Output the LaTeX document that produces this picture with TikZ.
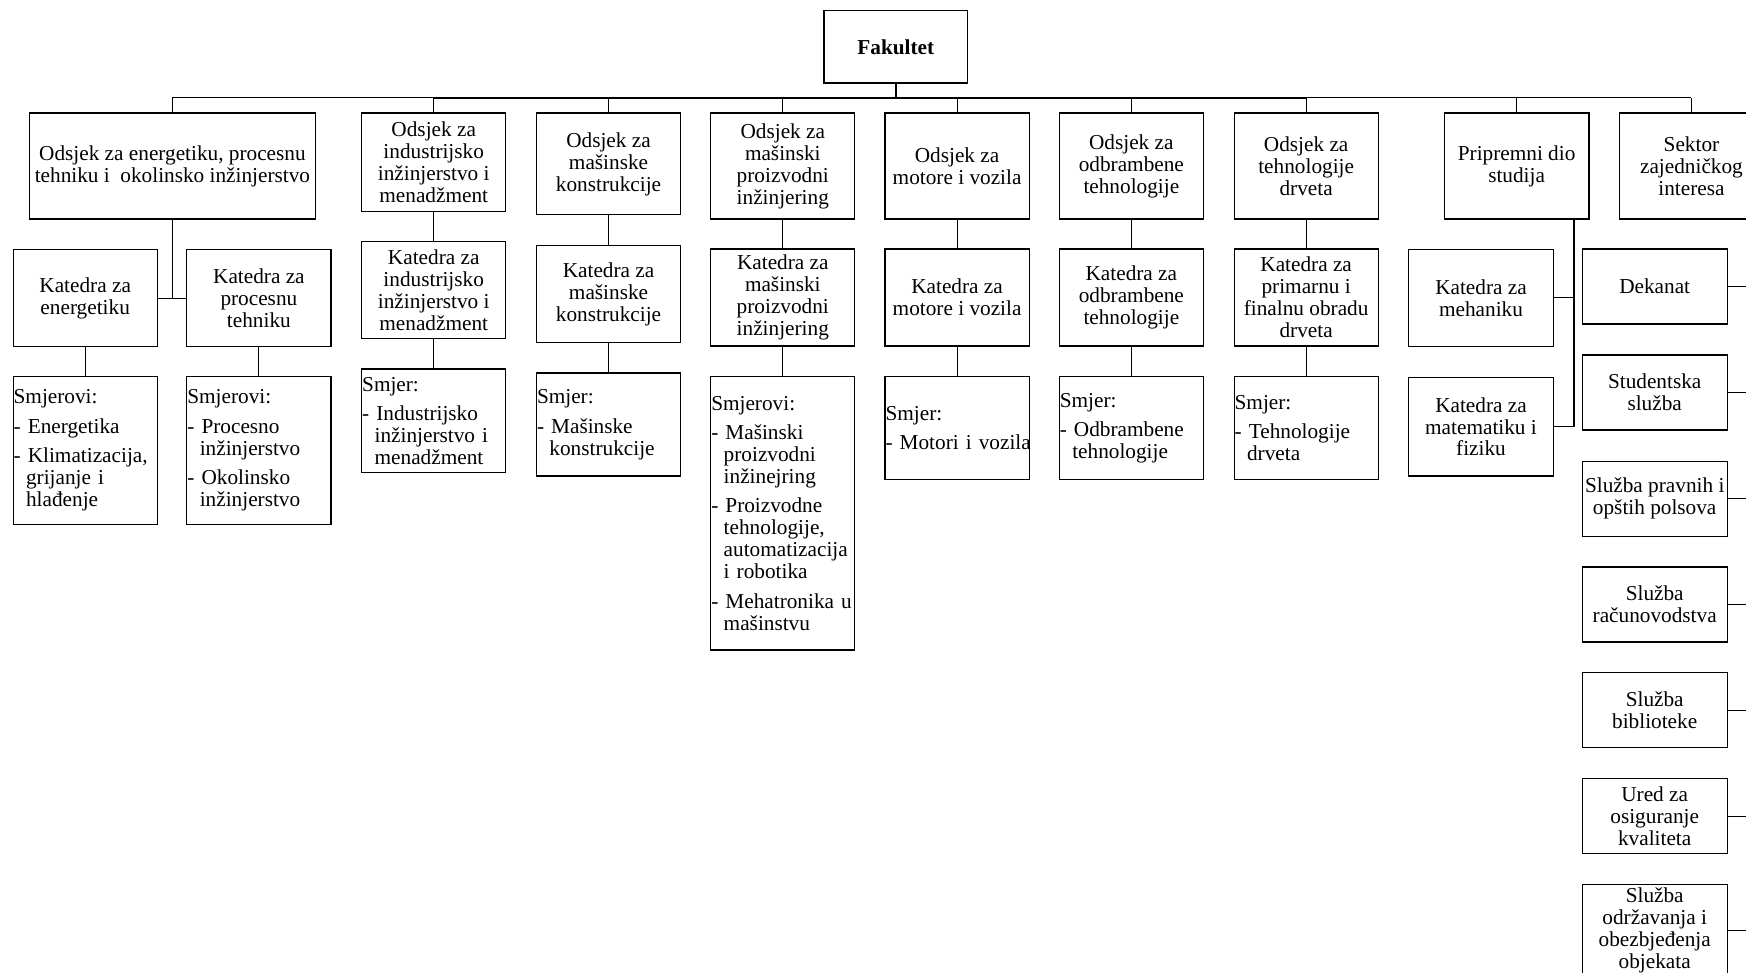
\documentclass[tikz,border=0pt]{standalone}
\usepackage{fontspec}
\setmainfont{Liberation Serif}
\usetikzlibrary{positioning}
\setlength{\parindent}{0pt}
% stavka u listi smjerova
\newcommand{\stavka}[1]{\par\vspace{3.4pt}\raggedright\exhyphenpenalty=10000
  \hangindent=5.6pt\hangafter=1\noindent-~#1\par}

\begin{document}
\begin{tikzpicture}[x=0.5pt,y=-0.5pt,
    font=\fontsize{9.55}{9.85}\selectfont,
    box/.style={draw,line width=0.5pt,inner xsep=1pt,inner ysep=0pt,align=center,
    minimum width=64.75pt},
    odsjek/.style={box,minimum height=47.6pt},
    katedra/.style={box,minimum height=43.55pt},
    lista/.style={box,align=left,inner xsep=0.25pt,text width=64.25pt},
    sluzba/.style={box,minimum width=65pt,minimum height=33.7pt},
    veza/.style={line width=0.5pt},
    deblja/.style={line width=1pt}]
    \useasboundingbox (0,0) rectangle (1568,873);
    \clip (0,0) rectangle (1568,873);

    \node[box,minimum width=64.5pt,minimum height=32.5pt] (fak) at (804.5,42) {\textbf{Fakultet}};

    % odsjeci
    \node[odsjek,minimum width=128.35pt] (ode) at (154.85,149.1) {Odsjek za energetiku, procesnu\\tehniku i\ \ okolinsko inžinjerstvo};
    \node[odsjek,minimum height=44.05pt] (odi) at (389.5,145.55) {Odsjek za\\industrijsko\\inžinjerstvo i\\menadžment};
    \node[odsjek,minimum height=45.75pt] (odm) at (546.5,147.25) {Odsjek za\\mašinske\\konstrukcije};
    \node[odsjek] (odmp) at (703,149.1) {Odsjek za\\mašinski\\proizvodni\\inžinjering};
    \node[odsjek] (odv) at (859.5,149.1) {Odsjek za\\motore i vozila};
    \node[odsjek] (odo) at (1016,149.1) {Odsjek za\\odbrambene\\tehnologije};
    \node[odsjek] (odd) at (1173,149.1) {Odsjek za\\tehnologije\\drveta};
    \node[odsjek,minimum width=65pt] (prip) at (1362,149.1) {Pripremni dio\\studija};
    \node[odsjek,minimum width=65pt] (sek) at (1519,149.1) {Sektor\\zajedničkog\\interesa};

    % katedre
    \node[katedra] (kate) at (76.5,268) {Katedra za\\energetiku};
    \node[katedra] (katp) at (232.5,268) {Katedra za\\procesnu\\tehniku};
    \node[katedra,minimum height=43.4pt] (kati) at (389.5,260.4) {Katedra za\\industrijsko\\inžinjerstvo i\\menadžment};
    \node[katedra,minimum height=43.4pt] (katm) at (546.5,264) {Katedra za\\mašinske\\konstrukcije};
    \node[katedra] (katmp) at (703,267.15) {Katedra za\\mašinski\\proizvodni\\inžinjering};
    \node[katedra] (katv) at (859.5,267.15) {Katedra za\\motore i vozila};
    \node[katedra] (kato) at (1016,267.15) {Katedra za\\odbrambene\\tehnologije};
    \node[katedra] (katd) at (1173,267.15) {Katedra za\\primarnu i\\finalnu obradu\\drveta};
    \node[katedra] (kmeh) at (1330,267.5) {Katedra za\\mehaniku};
    \node[katedra,minimum height=44.25pt] (kmat) at (1330,383.25) {Katedra za\\matematiku i\\fiziku};

    % smjerovi
    \node[lista,minimum height=66.3pt] (sme) at (76.5,404.6) {Smjerovi:\stavka{Energetika}\stavka{Klimatizacija,\newline grijanje i\newline hlađenje}};
    \node[lista,minimum height=66.3pt] (smp) at (232.5,404.6) {Smjerovi:\stavka{Procesno\newline inžinjerstvo}\stavka{Okolinsko\newline inžinjerstvo}};
    \node[lista,minimum height=46.55pt] (smi) at (389.5,377.95) {Smjer:\stavka{Industrijsko\newline inžinjerstvo i\newline menadžment}};
    \node[lista,minimum height=46.25pt] (smm) at (546.5,381.25) {Smjer:\stavka{Mašinske\newline konstrukcije}};
    \node[lista,minimum height=122.85pt] (smmp) at (703,460.85) {Smjerovi:\stavka{Mašinski\newline proizvodni\newline inžinejring}\stavka{Proizvodne\newline tehnologije,\newline automatizacija\newline i robotika}\stavka{Mehatronika u\newline mašinstvu}};
    \node[lista,minimum height=46.5pt] (smv) at (859.5,384.5) {Smjer:\stavka{\mbox{Motori i vozila}}};
    \node[lista,minimum height=46.5pt] (smo) at (1016,384.5) {Smjer:\stavka{Odbrambene\newline tehnologije}};
    \node[lista,minimum height=46.5pt] (smd) at (1173,384.5) {Smjer:\stavka{Tehnologije\newline drveta}};

    % sluzbe
    \node[sluzba] (dek) at (1486,257.3) {Dekanat};
    \node[sluzba] (stu) at (1486,352.5) {Studentska\\služba};
    \node[sluzba] (pra) at (1486,447.8) {Služba pravnih i\\opštih polsova};
    \node[sluzba] (rac) at (1486,542.85) {Služba\\računovodstva};
    \node[sluzba] (bib) at (1486,637.9) {Služba\\biblioteke};
    \node[sluzba] (ured) at (1486,733) {Ured za\\osiguranje\\kvaliteta};
    \node[sluzba,minimum height=41.4pt] (odr) at (1486,835.6) {Služba\\održavanja i\\obezbjeđenja\\objekata};

    % veze
    \coordinate (bus) at (0,87.7);
    \coordinate (pripspina) at (1413.5,196.7);
    \coordinate (sekspina) at (1576,196.7);
    \draw[deblja] (fak.south) -- (fak.south |- bus);
    \draw[veza] (ode.north |- bus) -- (sek.north |- bus);
    \draw[deblja] (odi.north |- bus) -- (odd.north |- bus);
    \foreach \o in {ode,odi,odm,odmp,odv,odo,odd,prip,sek}
      \draw[veza] (\o.north) -- (\o.north |- bus);
    \draw[veza] (ode.south) -- (ode.south |- kate.east);
    \draw[veza] (kate.east) -- (katp.west);
    \draw[veza] (kate.south) -- (sme.north);
    \draw[veza] (katp.south) -- (smp.north);
    \draw[veza] (odi.south) -- (kati.north);
    \draw[veza] (kati.south) -- (smi.north);
    \draw[veza] (odm.south) -- (katm.north);
    \draw[veza] (katm.south) -- (smm.north);
    \draw[veza] (odmp.south) -- (katmp.north);
    \draw[veza] (katmp.south) -- (smmp.north);
    \draw[veza] (odv.south) -- (katv.north);
    \draw[veza] (katv.south) -- (smv.north);
    \draw[veza] (odo.south) -- (kato.north);
    \draw[veza] (kato.south) -- (smo.north);
    \draw[veza] (odd.south) -- (katd.north);
    \draw[veza] (katd.south) -- (smd.north);
    \draw[veza] (pripspina) |- (kmat.east);
    \draw[veza] (pripspina |- kmeh.east) -- (kmeh.east);
    \foreach \s in {dek,stu,pra,rac,bib,ured,odr}
      \draw[veza] (sekspina) |- (\s.east);
\end{tikzpicture}
\end{document}
